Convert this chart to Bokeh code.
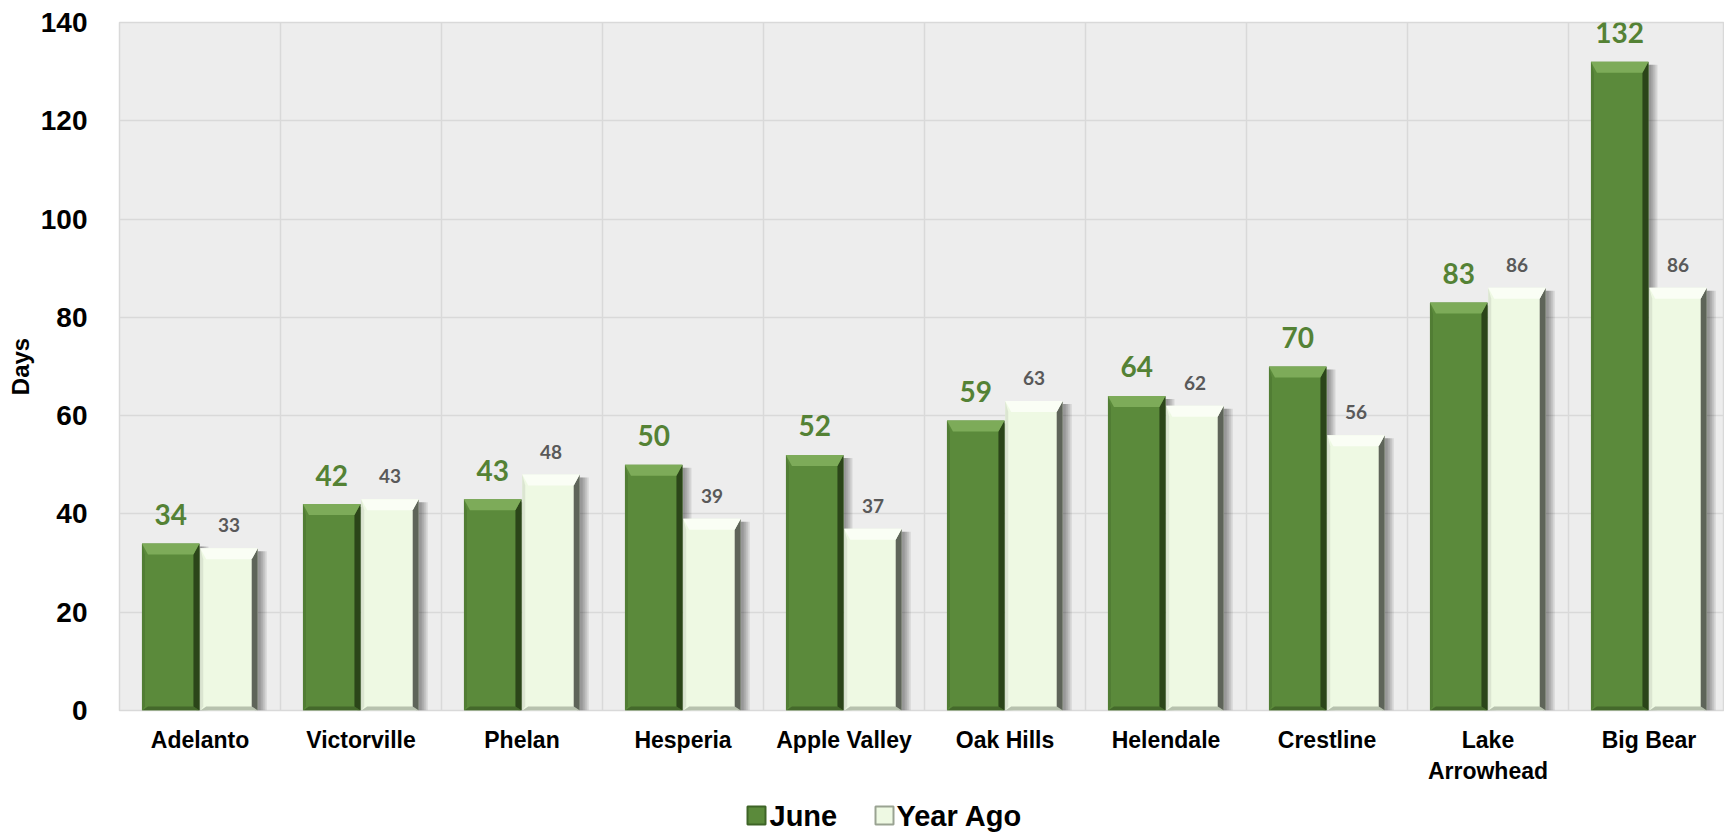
from bokeh.plotting import figure
from bokeh.models import Range1d, FixedTicker
from bokeh.layouts import column
from bokeh.core.properties import value
from bokeh.embed import file_html
from bokeh.resources import INLINE
import numpy as np

categories = ["Adelanto", "Victorville", "Phelan", "Hesperia", "Apple Valley",
              "Oak Hills", "Helendale", "Crestline", "Lake\nArrowhead", "Big Bear"]
june = [34, 42, 43, 50, 52, 59, 64, 70, 83, 132]
year_ago = [33, 43, 48, 39, 37, 63, 62, 56, 86, 86]
series_names = ["June", "Year Ago"]
y_ticks = [0, 20, 40, 60, 80, 100, 120, 140]

W = 1724
H_MAIN, H_LEG = 790, 42
LEFT, RIGHT, TOP, BOTTOM = 119, 0, 22, 80
frame_w = W - LEFT - RIGHT
frame_h = H_MAIN - TOP - BOTTOM
CAT_PX = 161.0
XMAX = frame_w / CAT_PX
YMAX = 140.0
px_x = 1.0 / CAT_PX
px_y = YMAX / frame_h

p = figure(width=W, height=H_MAIN, output_backend="svg", toolbar_location=None,
           x_range=Range1d(0, XMAX), y_range=Range1d(0, YMAX),
           min_border_left=LEFT, min_border_right=RIGHT,
           min_border_top=TOP, min_border_bottom=BOTTOM)
p.background_fill_color = "#EDEDED"
p.border_fill_color = "white"
p.outline_line_color = "#D9D9D9"
p.outline_line_width = 1.5

idx = np.arange(len(categories))
bw = 0.357
jx = idx + 0.318
yx = idx + 0.680

# gridlines
p.xgrid.ticker = FixedTicker(ticks=list(range(0, 11)))
p.xgrid.grid_line_color = "#D9D9D9"
p.xgrid.grid_line_width = 1.5
p.ygrid.grid_line_color = "#D9D9D9"
p.ygrid.grid_line_width = 1.5

MAIN_COLORS = ["#5B8A3B", "#EEF9E3"]
series = [
    (jx, june, MAIN_COLORS[0], "#7DAB59", "#2B4519", "#44692B", "#4D7832"),
    (yx, year_ago, MAIN_COLORS[1], "#FAFEF5", "#5E6459", "#B7C2AE", "#D3DDC9"),
]

# shadows
for xc, vals, *_ in series:
    r = xc + bw / 2
    v = np.array(vals, dtype=float)
    for k in (3, 5, 7, 9):
        p.quad(left=r - 3 * px_x, right=r + k * px_x, bottom=0, top=v - 3 * px_y,
               fill_color="black", fill_alpha=0.10, line_color=None)

for xc, vals, main, top_c, right_c, bottom_c, left_c in series:
    l = xc - bw / 2
    r = xc + bw / 2
    v = np.array(vals, dtype=float)
    p.quad(left=l, right=r, bottom=0, top=v, fill_color=main, line_color=None)
    bt = 11
    bs = 6
    tops_x, tops_y, rx, ry, bx, by, lx, ly = [], [], [], [], [], [], [], []
    for li, ri, vi in zip(l, r, v):
        tops_x.append([li, ri, ri - bs * px_x, li + bs * px_x])
        tops_y.append([vi, vi, vi - bt * px_y, vi - bt * px_y])
        rx.append([ri, ri, ri - bs * px_x, ri - bs * px_x])
        ry.append([vi, 0, 4 * px_y, vi - bt * px_y])
        bx.append([li, ri, ri - bs * px_x, li + bs * px_x])
        by.append([0, 0, 4 * px_y, 4 * px_y])
        lx.append([li, li, li + 3 * px_x, li + 3 * px_x])
        ly.append([0, vi, vi - bt * px_y, 4 * px_y])
    p.patches(xs=bx, ys=by, fill_color=bottom_c, line_color=None)
    p.patches(xs=lx, ys=ly, fill_color=left_c, line_color=None, fill_alpha=0.7)
    p.patches(xs=rx, ys=ry, fill_color=right_c, line_color=None)
    p.patches(xs=tops_x, ys=tops_y, fill_color=top_c, line_color=None)

# data labels
p.text(x=jx, y=june, text=[str(v) for v in june], text_align="center",
       text_baseline="alphabetic", y_offset=-29, text_color="#548235",
       text_font=value("Lato"), text_font_style="bold", text_font_size="28px")
p.text(x=yx, y=year_ago, text=[str(v) for v in year_ago], text_align="center",
       text_baseline="alphabetic", y_offset=-23, text_color="#595959",
       text_font=value("Lato"), text_font_style="bold", text_font_size="19px")

# axes
p.xaxis.ticker = FixedTicker(ticks=[i + 0.5 for i in idx])
p.xaxis.major_label_overrides = {float(i + 0.5): c for i, c in zip(idx, categories)}
p.xaxis.major_label_text_font = "Liberation Sans"
p.xaxis.major_label_text_font_style = "bold"
p.xaxis.major_label_text_font_size = "23px"
p.xaxis.major_label_text_color = "black"
p.xaxis.major_label_standoff = 10
p.xaxis.axis_line_color = None
p.xaxis.major_tick_line_color = None
p.xaxis.minor_tick_line_color = None

p.yaxis.ticker = FixedTicker(ticks=y_ticks)
p.yaxis.major_label_text_font = "Liberation Sans"
p.yaxis.major_label_text_font_style = "bold"
p.yaxis.major_label_text_font_size = "28px"
p.yaxis.major_label_text_color = "black"
p.yaxis.major_label_standoff = 26
p.yaxis.axis_line_color = None
p.yaxis.major_tick_line_color = None
p.yaxis.minor_tick_line_color = None
p.yaxis.axis_label = "Days"
p.yaxis.axis_label_text_font = "Liberation Sans"
p.yaxis.axis_label_text_font_style = "bold"
p.yaxis.axis_label_text_font_size = "24px"
p.yaxis.axis_label_text_color = "black"
p.yaxis.axis_label_standoff = 4

# legend strip (page-pixel coordinates; frame aligned with main frame)
leg = figure(width=W, height=H_LEG, output_backend="svg", toolbar_location=None,
             x_range=Range1d(LEFT, W), y_range=Range1d(0, H_LEG),
             min_border_left=LEFT, min_border_right=RIGHT,
             min_border_top=0, min_border_bottom=0,
             x_axis_type=None, y_axis_type=None)
leg.outline_line_color = None
leg.background_fill_color = "white"
leg.xgrid.visible = False
leg.ygrid.visible = False
glyph_x = [747, 875]
text_x = [769, 896]
edge_colors = ["#3E6427", "#9AA392"]
leg.quad(left=glyph_x, right=[g + 18 for g in glyph_x], bottom=8, top=26,
         fill_color=MAIN_COLORS, line_color=edge_colors, line_width=2)
leg.text(x=text_x, y=17, text=series_names, text_align="left",
         text_baseline="middle", text_color="black",
         text_font=value("Liberation Sans"), text_font_style="bold",
         text_font_size="29px")

open("out.html", "w").write(file_html(column(p, leg, spacing=0), INLINE))
